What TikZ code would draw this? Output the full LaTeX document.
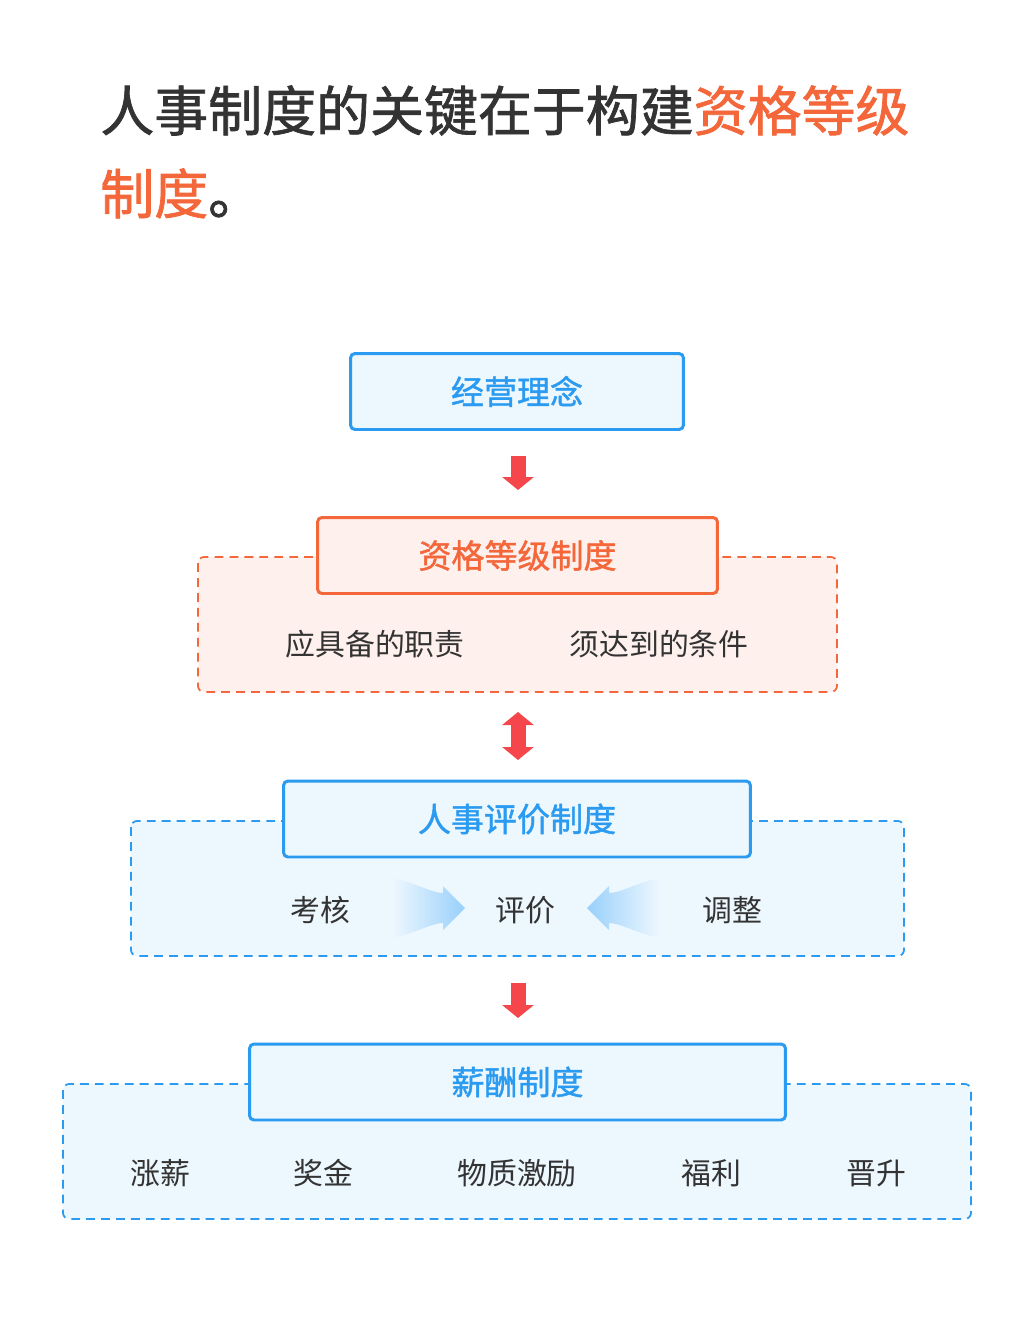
\documentclass[tikz,border=0pt]{standalone}
\usepackage{fontspec}
\setmainfont{Noto Sans CJK SC}[BoldFont={Noto Sans CJK SC},BoldFeatures={FakeBold=1.3}]
\usetikzlibrary{positioning,arrows.meta}
\definecolor{hrblue}{HTML}{2A9BF0}
\definecolor{hrbluefill}{HTML}{EDF7FE}
\definecolor{hrorange}{HTML}{F4673B}
\definecolor{hrorangefill}{HTML}{FEF0EC}
\definecolor{hrred}{HTML}{F5474B}
\definecolor{hrtext}{HTML}{333333}
\definecolor{hrshade}{HTML}{98D0FB}

\begin{document}
\begin{tikzpicture}[x=0.02cm,y=-0.02cm,
  title/.style={font=\fontsize{30.7pt}{47pt}\selectfont\bfseries, text=hrtext, inner sep=0pt},
  mainbox/.style={draw=hrblue, fill=hrbluefill, text=hrblue, line width=1.7pt, rounded corners=2.5pt,
    minimum height=1.52cm, font=\fontsize{18.8pt}{22pt}\selectfont\bfseries},
  orangebox/.style={mainbox, draw=hrorange, fill=hrorangefill, text=hrorange},
  region/.style={draw=hrblue, fill=hrbluefill, dashed, dash pattern=on 5pt off 3.5pt, line width=1pt, rounded corners=3.5pt},
  oregion/.style={region, draw=hrorange, fill=hrorangefill},
  item/.style={text=hrtext, font=\fontsize{17pt}{20pt}\selectfont},
  flow/.style={draw=hrred, line width=0.3cm, -{Triangle[width=0.62cm,length=0.26cm]}},
  dflow/.style={flow, {Triangle[width=0.62cm,length=0.26cm]}-{Triangle[width=0.62cm,length=0.26cm]}}]
\useasboundingbox[fill=white] (0,0) rectangle (1035,1338);
% Title
\node[title, anchor=base west] (title1) at (100,131) {人事制度的关键在于构建\textcolor{hrorange}{资格等级}};
\node[title, anchor=base west] (title2) at (100,214) {\textcolor{hrorange}{制度}。};
% Dashed regions
\draw[oregion] (198,557) rectangle (837,692);
\draw[region] (131,821) rectangle (904,956);
\draw[region] (63,1084) rectangle (971,1219);
% Boxes
\node[mainbox, minimum width=6.66cm] (idea) at (517,391.5) {经营理念};
\node[orangebox, minimum width=8.0cm] (grade) at (517.5,555.5) {资格等级制度};
\node[mainbox, minimum width=9.34cm] (review) at (517,819) {人事评价制度};
\node[mainbox, minimum width=10.72cm] (pay) at (517.5,1082) {薪酬制度};
% Items
\node[item] (duty) at (375,644) {应具备的职责};
\node[item] (cond) at (659,644) {须达到的条件};
\node[item] (check) at (320,910) {考核};
\node[item] (assess) at (525,910) {评价};
\node[item] (adjust) at (732,910) {调整};
\node[item] (raise) at (160,1173) {涨薪};
\node[item] (bonus) at (323,1173) {奖金};
\node[item] (reward) at (517,1173) {物质激励};
\node[item] (welfare) at (711,1173) {福利};
\node[item] (promote) at (876,1173) {晋升};
% Shaded arrows
\shade[left color=hrbluefill, right color=hrshade] (393,878) .. controls (418,884) and (432,893) .. (443,893)
  -- (443,886) -- (465,908) -- (443,930) -- (443,923) .. controls (432,923) and (418,932) .. (393,938) -- cycle;
\shade[left color=hrshade, right color=hrbluefill] (659,878) .. controls (634,884) and (620,893) .. (609,893)
  -- (609,886) -- (587,908) -- (609,930) -- (609,923) .. controls (620,923) and (634,932) .. (659,938) -- cycle;
% Red arrows
\coordinate (f1s) at (518,456);
\coordinate (f1e) at (518,490);
\coordinate (f2s) at (518,712);
\coordinate (f2e) at (518,760);
\coordinate (f3s) at (518,983);
\coordinate (f3e) at (518,1018);
\draw[flow] (f1s) -- (f1e);
\draw[dflow] (f2s) -- (f2e);
\draw[flow] (f3s) -- (f3e);
\end{tikzpicture}
\end{document}
